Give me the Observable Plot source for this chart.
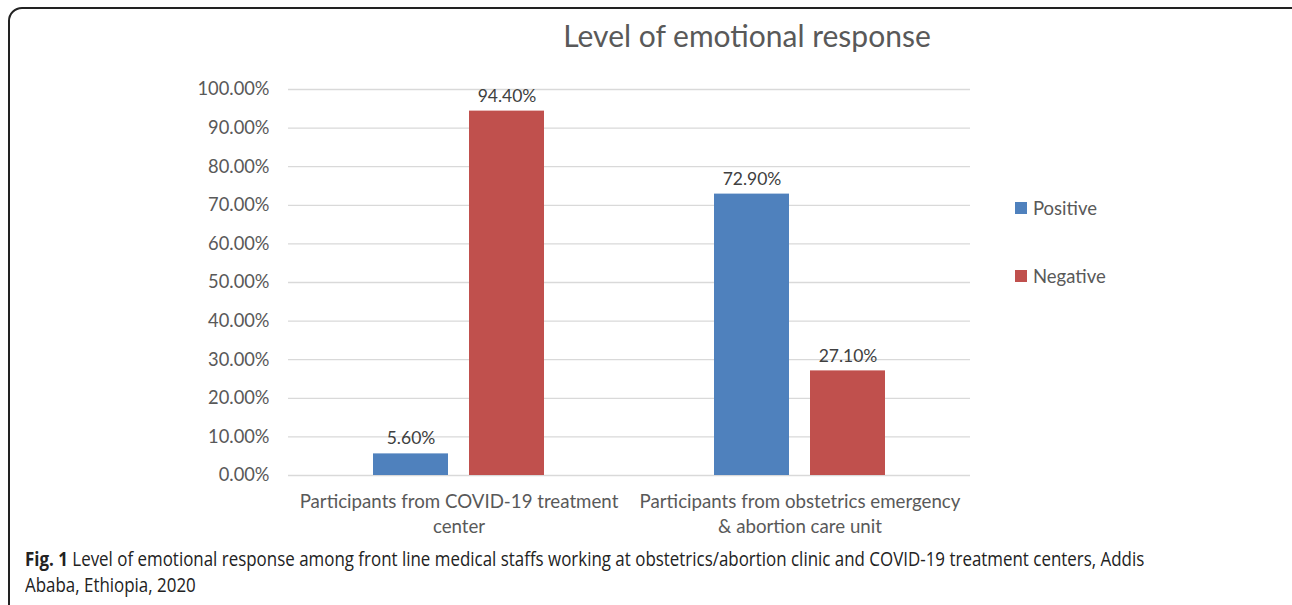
<!DOCTYPE html>
<html>
<head>
<meta charset="utf-8">
<script src="https://cdn.jsdelivr.net/npm/d3@7"></script>
<script src="https://cdn.jsdelivr.net/npm/@observablehq/plot@0.6"></script>
<style>
  html, body { margin: 0; padding: 0; background: #fff; }
  #wrap { position: relative; width: 1292px; height: 605px; overflow: hidden; font-family: Lato, "Open Sans", sans-serif; }
  #frame { position: absolute; left: 8px; top: 7px; width: 1300px; height: 620px; border: 2px solid #222; border-radius: 14px; box-sizing: border-box; }
  #title { position: absolute; left: 0; width: 1494px; top: 17px; text-align: center; font-size: 30px; color: #595959; }
  #chart { position: absolute; left: 0; top: 0; }
  .leg { position: absolute; left: 1015px; font-size: 18.5px; color: #595959; display: flex; align-items: center; }
  .leg span.sw { display: inline-block; width: 12px; height: 12px; margin-right: 6px; }
  #caption { position: absolute; left: 25px; top: 546px; width: 1500px; font-size: 20px; line-height: 26px; color: #222;
             font-family: "Open Sans", sans-serif; transform: scaleX(0.846); transform-origin: 0 0; white-space: nowrap; }
</style>
</head>
<body>
<div id="wrap">
  <div id="frame"></div>
  <div id="chart"></div>
  <div id="title"></div>
  <div id="legend"></div>
  <div id="caption"></div>
</div>
<script>
const chartTitle = "Level of emotional response";
const categories = ["Participants from COVID-19 treatment center", "Participants from obstetrics emergency & abortion care unit"];
const categoryLines = [["Participants from COVID-19 treatment", "center"], ["Participants from obstetrics emergency", "& abortion care unit"]];
const series = ["Positive", "Negative"];
const positiveValues = [5.6, 72.9];
const negativeValues = [94.4, 27.1];
const seriesColors = ["#4F81BD", "#C0504D"];
const yTicks = [0, 10, 20, 30, 40, 50, 60, 70, 80, 90, 100];
const captionBold = "Fig. 1";
const captionLines = [" Level of emotional response among front line medical staffs working at obstetrics/abortion clinic and COVID-19 treatment centers, Addis", "Ababa, Ethiopia, 2020"];

const data = [];
categories.forEach((c, i) => {
  data.push({category: c, series: "Positive", value: positiveValues[i]});
  data.push({category: c, series: "Negative", value: negativeValues[i]});
});
const pct = d => d.toFixed(2) + "%";

const chart = Plot.plot({
  width: 1292,
  height: 545,
  marginLeft: 287,
  marginRight: 322,
  marginTop: 89,
  marginBottom: 70,
  style: {fontFamily: "Lato, 'Open Sans', sans-serif", color: "#595959", background: "transparent"},
  fx: {domain: categories, padding: 0, label: null},
  x: {domain: series, paddingInner: 0.2165, paddingOuter: 0.8686, axis: null},
  y: {domain: [0, 100], label: null},
  color: {domain: series, range: seriesColors},
  marks: [
    Plot.gridY(yTicks, {stroke: "#d9d9d9", strokeOpacity: 1, strokeWidth: 1.3}),
    Plot.barY(data, {fx: "category", x: "series", y: "value", fill: "series"}),
    Plot.text(data, {fx: "category", x: "series", y: "value", text: d => pct(d.value), dy: -15, fontSize: 17.5, fill: "#404040"}),
    Plot.axisY(yTicks, {tickSize: 0, tickPadding: 19, tickFormat: pct, fontSize: 18.3, fill: "#595959", label: null}),
    Plot.axisFx({anchor: "bottom", tickSize: 0, tickPadding: 15, label: null, fontSize: 18.7, lineHeight: 1.34, fill: "#595959",
      tickFormat: c => categoryLines[categories.indexOf(c)].join("\n")})
  ]
});
document.getElementById("chart").appendChild(chart);
document.getElementById("title").textContent = chartTitle;

const legend = document.getElementById("legend");
const legendTops = [197, 265];
series.forEach((s, i) => {
  const el = document.createElement("div");
  el.className = "leg";
  el.style.top = legendTops[i] + "px";
  el.innerHTML = `<span class="sw" style="background:${seriesColors[i]}"></span>${s}`;
  legend.appendChild(el);
});

const cap = document.getElementById("caption");
const line1 = document.createElement("div");
const b = document.createElement("b");
b.textContent = captionBold;
line1.appendChild(b);
line1.appendChild(document.createTextNode(captionLines[0]));
const line2 = document.createElement("div");
line2.textContent = captionLines[1];
cap.appendChild(line1);
cap.appendChild(line2);
</script>
</body>
</html>
